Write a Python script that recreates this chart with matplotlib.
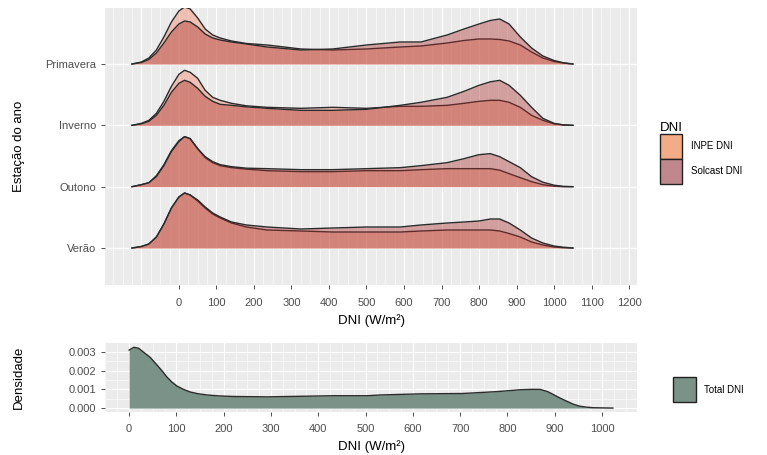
import numpy as np
import matplotlib.pyplot as plt
from matplotlib.patches import Patch

plt.rcParams['font.family'] = ['Liberation Sans', 'DejaVu Sans']

# ridgeline data: DNI grid (W/m2) and relative density heights per season
seasons = ['Verão', 'Outono', 'Inverno', 'Primavera']
dni_grid = [-125, -100, -80, -60, -40, -20, 0, 15, 30, 50, 70, 90, 110, 140, 180, 235, 325,
            410, 500, 590, 645, 715, 760, 800, 830, 855, 880, 910, 940, 970, 1000, 1025, 1050]

inpe_primavera = [0, 2, 6, 14, 27, 42, 53, 57, 55, 46, 35, 29, 26, 23, 20.5, 19, 15,
                  14, 15, 17, 18, 21, 23.5, 25, 25, 24.5, 23, 19, 12, 6, 2.5, 1, 0]
solcast_primavera = [0, 1.5, 4.5, 11, 21, 32, 40, 43, 42, 37, 30, 26, 24, 22, 20, 17, 14,
                     15, 19, 22, 22, 29, 35, 40, 43.5, 45, 40, 27, 16, 8, 3.5, 1.2, 0]
inpe_inverno = [0, 2, 5, 12, 24, 39, 51, 55, 53, 47, 35, 28, 25, 22, 19.5, 18, 17,
                18, 17, 19, 19, 20, 22, 24, 25, 25, 23, 18, 10, 5, 1.5, 0.5, 0]
solcast_inverno = [0, 1.5, 4, 10, 20, 33, 42, 45, 43, 37, 29, 24, 21, 20, 18.5, 17, 15,
                   15, 16, 20, 23, 28, 34, 40, 43.5, 45, 40, 30, 18, 7, 2, 0.3, 0]
inpe_outono = [0, 2, 4, 11, 22, 36, 46, 50, 48, 38, 29, 24, 21, 19, 17.5, 16, 15,
               15, 16, 16, 17, 18, 18, 18, 18, 16.5, 13, 9, 5, 2, 0.5, 0, 0]
solcast_outono = [0, 2, 4, 10, 21, 35, 45, 50, 48, 38, 30, 25, 22, 20, 18.5, 18, 17,
                  17, 18, 19, 21, 24, 28, 32, 33, 30, 25, 19, 10, 4.5, 1.5, 0.3, 0]
inpe_verao = [0, 1.5, 4, 11, 24, 40, 51, 55, 53, 47, 40, 34, 30, 25, 21, 18, 17,
              16, 16, 16, 17, 18, 18, 18, 18, 17, 14.5, 11, 6, 3, 1, 0.3, 0]
solcast_verao = [0, 1.5, 4, 11, 24, 40, 51, 55, 53, 48, 41, 35, 31, 26, 23, 21, 19,
                 20, 21, 21, 23, 25, 26, 27, 29, 29, 25, 18, 10, 5, 2, 0.8, 0]

inpe = [inpe_verao, inpe_outono, inpe_inverno, inpe_primavera]
solcast = [solcast_verao, solcast_outono, solcast_inverno, solcast_primavera]
ridge_scale = 1 / 61.3

# total density (x 1e-3)
total_x = [0, 10, 20, 30, 45, 59, 70, 80, 90, 101, 115, 129, 145, 165, 190, 220, 292, 362,
           431, 503, 531, 615, 706, 778, 827, 850, 869, 885, 896, 910, 926, 940, 953, 967,
           981, 1000, 1023]
total_d = [3.1, 3.25, 3.2, 3.0, 2.7, 2.3, 1.98, 1.66, 1.4, 1.18, 1.0, 0.86, 0.77, 0.70,
           0.65, 0.62, 0.60, 0.63, 0.66, 0.66, 0.70, 0.76, 0.78, 0.88, 0.98, 1.0, 1.0,
           0.88, 0.74, 0.55, 0.36, 0.2, 0.10, 0.05, 0.02, 0.01, 0.0]
total_d = [v * 1e-3 for v in total_d]

top_ticks = list(range(0, 1201, 100))
bot_ticks = list(range(0, 1001, 100))

c_inpe = '#F1957A'
c_solcast = '#AA2D2A'
c_total = '#7B9288'
panel = '#EBEBEB'
txt = '#4D4D4D'

fig = plt.figure(figsize=(7.67, 4.55), dpi=100)
ax = fig.add_axes([105 / 767, 1 - 285 / 455, 532 / 767, 277 / 455])
ax2 = fig.add_axes([105 / 767, 1 - 412 / 455, 532 / 767, 69 / 455])


def style(a):
    a.set_facecolor(panel)
    for s in a.spines.values():
        s.set_visible(False)
    a.tick_params(colors='#333333', labelcolor=txt, labelsize=8, length=3, width=0.6)
    a.tick_params(axis='x', pad=6)


# top panel
style(ax)
ax.set_xlim(-197, 1221)
ax.set_ylim(0.397, 4.913)
for v in np.arange(-200, 1226, 25):
    ax.axvline(v, color='white', lw=0.8 if v % 100 == 0 else 0.4, zorder=0)
for i in range(len(seasons)):
    ax.axhline(i + 1, color='white', lw=1.0, zorder=0)

for i in range(len(seasons) - 1, -1, -1):
    base = i + 1
    z = 10 + (4 - i) * 3
    y1 = base + np.array(inpe[i]) * ridge_scale
    y2 = base + np.array(solcast[i]) * ridge_scale
    ax.fill_between(dni_grid, base, y1, color=c_inpe, alpha=0.5, lw=0, zorder=z)
    ax.plot(dni_grid, y1, color='#2b2b2b', lw=1.0, zorder=z + 0.5)
    ax.fill_between(dni_grid, base, y2, color=c_solcast, alpha=0.4, lw=0, zorder=z + 1)
    ax.plot(dni_grid, y2, color='#2b2b2b', lw=1.0, zorder=z + 1.5)

ax.set_xticks(top_ticks)
ax.set_yticks(range(1, len(seasons) + 1))
ax.set_yticklabels(seasons)
ax.set_xlabel('DNI (W/m²)', fontsize=9.5, labelpad=5)
ax.set_ylabel('Estação do ano', fontsize=9.5)
ax.yaxis.set_label_coords(-0.15, 0.5)

leg = ax.legend(handles=[Patch(facecolor='#F2AC87', edgecolor='#222222', label='INPE DNI'),
                         Patch(facecolor='#C0878C', edgecolor='#222222', label='Solcast DNI')],
                title='DNI', loc='center left', bbox_to_anchor=(1.035, 0.477), frameon=False,
                fontsize=7, title_fontsize=9.5, handlelength=2.35, handleheight=3.6,
                labelspacing=0.0, handletextpad=0.9, borderaxespad=0)
leg._legend_box.align = 'left'

# bottom panel
style(ax2)
ax2.set_xlim(-51, 1074)
ax2.set_ylim(-0.00021, 0.00348)
for v in np.arange(-50, 1075, 25):
    ax2.axvline(v, color='white', lw=0.8 if v % 100 == 0 else 0.4, zorder=0)
for v in np.arange(0, 0.0035, 0.0005):
    ax2.axhline(v, color='white', lw=0.8 if round(v * 1e4) % 10 == 0 else 0.4, zorder=0)
ax2.fill_between(total_x, 0, total_d, color=c_total, lw=0, zorder=5)
ax2.plot(total_x, total_d, color='#2b2b2b', lw=1.0, zorder=6)
ax2.set_xticks(bot_ticks)
ax2.set_yticks([0, 0.001, 0.002, 0.003])
ax2.set_yticklabels(['0.000', '0.001', '0.002', '0.003'])
ax2.set_xlabel('DNI (W/m²)', fontsize=9.5, labelpad=4)
ax2.set_ylabel('Densidade', fontsize=9.5)
ax2.yaxis.set_label_coords(-0.15, 0.5)

ax2.legend(handles=[Patch(facecolor=c_total, edgecolor='#222222', label='Total DNI')],
           loc='center left', bbox_to_anchor=(1.06, 0.32), frameon=False, fontsize=7,
           handlelength=2.35, handleheight=3.6, handletextpad=0.9, borderaxespad=0)

fig.savefig('out.png', dpi=100)
